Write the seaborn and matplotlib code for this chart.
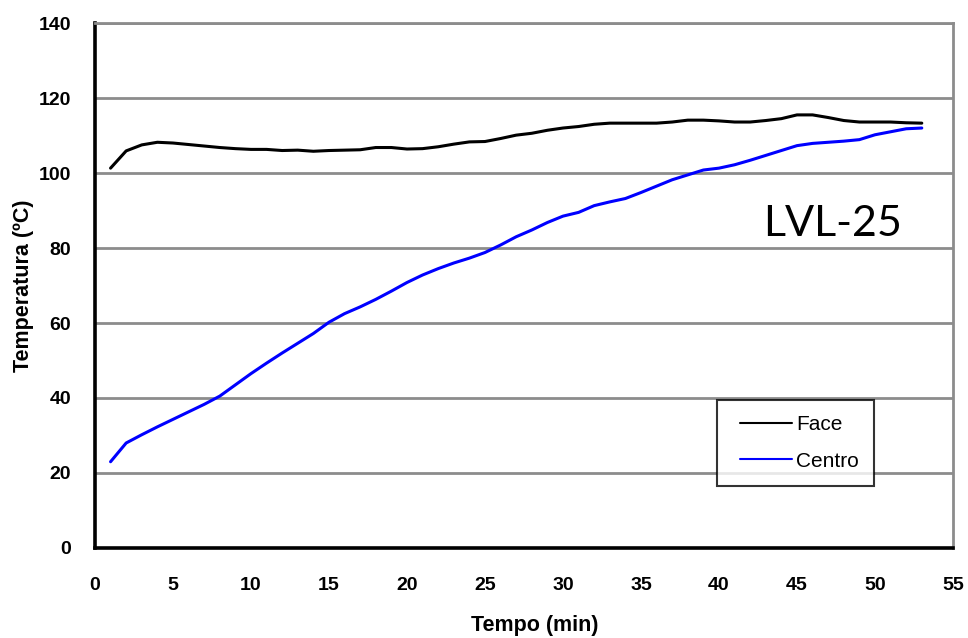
import numpy as np
import pandas as pd
import matplotlib
matplotlib.use("Agg")
import matplotlib.pyplot as plt
from matplotlib.legend_handler import HandlerLine2D
import seaborn as sns

# Time (min) and temperatures (ºC) measured at the face and centre of the LVL-25 specimen
tempo = list(range(1, 54))
face = [101.3, 105.9, 107.5, 108.2, 108.0, 107.6, 107.2, 106.8, 106.5, 106.3,
        106.3, 106.0, 106.1, 105.8, 106.0, 106.1, 106.2, 106.8, 106.8, 106.4,
        106.5, 107.0, 107.7, 108.3, 108.4, 109.2, 110.1, 110.6, 111.4, 112.0,
        112.4, 113.0, 113.3, 113.3, 113.3, 113.3, 113.6, 114.1, 114.1, 113.9,
        113.6, 113.6, 114.0, 114.5, 115.5, 115.5, 114.8, 114.0, 113.6, 113.6,
        113.6, 113.4, 113.3]
centro = [23.0, 28.0, 30.2, 32.3, 34.3, 36.3, 38.3, 40.5, 43.5, 46.5,
          49.3, 52.0, 54.6, 57.2, 60.2, 62.5, 64.3, 66.3, 68.5, 70.8,
          72.8, 74.5, 76.0, 77.3, 78.8, 80.8, 83.0, 84.8, 86.8, 88.5,
          89.5, 91.3, 92.3, 93.2, 94.8, 96.5, 98.2, 99.5, 100.8, 101.3,
          102.2, 103.4, 104.7, 106.0, 107.3, 107.9, 108.2, 108.5, 108.9, 110.2,
          111.0, 111.8, 112.0]
series = ["Face", "Centro"]
colors = ["#000000", "#0000ff"]
x_ticks = list(range(0, 56, 5))
y_ticks = list(range(0, 141, 20))

df = pd.DataFrame({
    "Tempo": tempo * 2,
    "Temperatura": face + centro,
    "Série": ["Face"] * len(tempo) + ["Centro"] * len(tempo),
})

sns.set_theme(style="white")
plt.rcParams["font.family"] = ["Liberation Sans", "DejaVu Sans"]
plt.rcParams.update({
    "text.color": "black",
    "axes.labelcolor": "black",
    "xtick.color": "black",
    "ytick.color": "black",
})

fig = plt.figure(figsize=(9.68, 6.38), dpi=100)
ax = fig.add_axes([0.0981, 0.1411, 0.8864, 0.8228])

sns.lineplot(data=df, x="Tempo", y="Temperatura", hue="Série",
             hue_order=series, palette=colors, linewidth=2.2, ax=ax,
             legend=False, zorder=3)

ax.set_xlim(0, 55)
ax.set_ylim(0, 140)
ax.set_xticks(x_ticks)
ax.set_yticks(y_ticks)
ax.yaxis.grid(True, color="#8c8c8c", linewidth=2.0, zorder=0)
ax.xaxis.grid(False)
ax.set_axisbelow(True)

for side in ("left", "bottom"):
    ax.spines[side].set_color("black")
    ax.spines[side].set_linewidth(2.6)
for side in ("top", "right"):
    ax.spines[side].set_color("#8c8c8c")
    ax.spines[side].set_linewidth(2.0)

ax.tick_params(axis="both", which="major", direction="out", length=6,
               width=2, color="black", labelcolor="black", labelsize=14)
ax.tick_params(axis="x", pad=15)
ax.tick_params(axis="y", pad=11)
for lab in ax.get_xticklabels() + ax.get_yticklabels():
    lab.set_fontweight("bold")

ax.set_xlabel("Tempo (min)", fontsize=15.5, fontweight="bold", color="black")
ax.set_ylabel("Temperatura (ºC)", fontsize=15.5, fontweight="bold", color="black")
ax.xaxis.set_label_coords(0.512, -0.128)
ax.yaxis.set_label_coords(-0.071, 0.5)

ax.text(0.86, 0.618, "LVL-25", transform=ax.transAxes, ha="center",
        va="center", fontsize=31, family=["Lato", "DejaVu Sans"], color="black")

handles = [plt.Line2D([], [], color=c, linewidth=1.5) for c in colors]
leg = ax.legend(handles, series, loc="upper left", bbox_to_anchor=(0.725, 0.282),
                frameon=True, fancybox=False, edgecolor="black", fontsize=15,
                handlelength=2.87, handletextpad=0.2, labelspacing=0.85,
                borderpad=0.72, borderaxespad=0, labelcolor="black",
                handler_map={plt.Line2D: HandlerLine2D(xpad=0.4)})
leg.get_frame().set_linewidth(1.5)
leg.get_frame().set_facecolor("white")
leg.set_zorder(5)

fig.savefig("out.png", dpi=100, facecolor="white")
